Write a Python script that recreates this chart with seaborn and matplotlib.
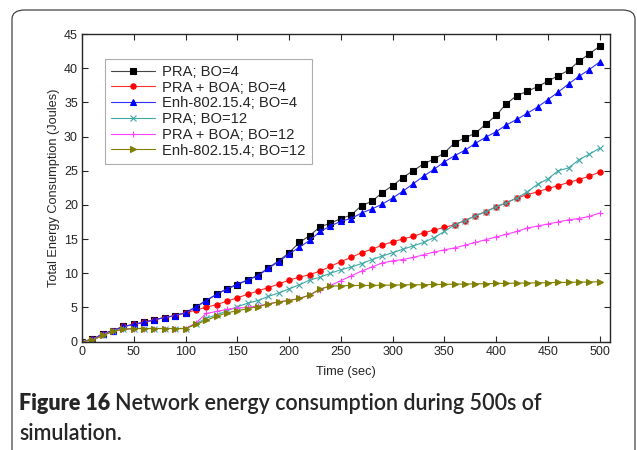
import pandas as pd
import seaborn as sns
import matplotlib.pyplot as plt
from matplotlib.patches import FancyBboxPatch

# time axis (sec), one sample every 10 s
time_sec = list(range(0, 510, 10))

pra_bo4 = [0, 0.3, 1.1, 1.6, 2.2, 2.5, 2.8, 3.2, 3.5, 3.8,
           4.2, 5.1, 6.0, 6.9, 7.7, 8.3, 9.0, 9.7, 10.8, 11.8,
           13.0, 14.5, 15.5, 16.8, 17.3, 18.0, 18.5, 19.9, 20.5, 21.8,
           22.8, 24.0, 25.0, 26.0, 26.7, 27.6, 29.1, 29.8, 30.5, 31.8,
           33.1, 34.8, 36.0, 36.6, 37.3, 38.1, 38.9, 39.7, 41.0, 42.1,
           43.2]
pra_boa_bo4 = [0, 0.3, 1.1, 1.6, 2.2, 2.5, 2.8, 3.2, 3.5, 3.8,
               4.2, 4.6, 5.0, 5.4, 5.9, 6.4, 6.9, 7.4, 7.9, 8.4,
               9.0, 9.4, 9.8, 10.3, 11.0, 11.7, 12.3, 13.0, 13.5, 14.1,
               14.6, 15.0, 15.4, 15.9, 16.3, 16.7, 17.1, 17.7, 18.4, 19.0,
               19.7, 20.3, 21.0, 21.5, 21.9, 22.4, 22.8, 23.3, 23.7, 24.2,
               24.8]
enh_bo4 = [0, 0.3, 1.1, 1.6, 2.2, 2.5, 2.8, 3.2, 3.5, 3.8,
           4.2, 5.0, 6.0, 6.9, 7.7, 8.4, 9.0, 9.6, 10.7, 11.7,
           12.8, 13.8, 14.8, 16.1, 16.9, 17.6, 18.0, 18.8, 19.4, 20.1,
           21.0, 22.0, 23.1, 24.2, 25.2, 26.3, 27.2, 28.0, 29.0, 29.9,
           30.7, 31.7, 32.5, 33.4, 34.3, 35.4, 36.5, 37.7, 38.8, 39.8,
           40.9]
pra_bo12 = [0, 0.2, 0.9, 1.5, 1.8, 1.9, 1.9, 1.9, 1.9, 1.9,
            1.9, 2.6, 3.4, 3.9, 4.5, 5.1, 5.6, 6.0, 6.6, 7.1,
            7.7, 8.3, 9.0, 9.4, 10.0, 10.5, 10.9, 11.4, 12.0, 12.5,
            13.0, 13.5, 14.0, 14.5, 15.2, 16.1, 17.1, 17.7, 18.4, 19.0,
            19.7, 20.3, 21.0, 21.9, 23.0, 23.8, 25.0, 25.4, 26.6, 27.4,
            28.3]
pra_boa_bo12 = [0, 0.2, 0.9, 1.5, 1.8, 1.9, 1.9, 1.9, 1.9, 1.9,
                1.9, 2.7, 4.1, 4.4, 4.7, 4.9, 5.0, 5.2, 5.5, 5.8,
                6.0, 6.3, 6.8, 7.6, 8.2, 8.9, 9.6, 10.3, 10.9, 11.5,
                11.8, 12.0, 12.3, 12.7, 13.1, 13.4, 13.7, 14.1, 14.5, 14.9,
                15.3, 15.7, 16.1, 16.6, 16.9, 17.2, 17.5, 17.8, 18.0, 18.3,
                18.8]
enh_bo12 = [0, 0.2, 0.9, 1.5, 1.8, 1.9, 1.9, 1.9, 1.9, 1.9,
            1.9, 2.5, 3.1, 3.7, 4.2, 4.5, 4.8, 5.1, 5.5, 5.8,
            6.0, 6.3, 6.8, 7.7, 8.1, 8.15, 8.2, 8.2, 8.2, 8.25,
            8.25, 8.3, 8.3, 8.3, 8.35, 8.35, 8.4, 8.4, 8.45, 8.45,
            8.5, 8.5, 8.55, 8.55, 8.6, 8.6, 8.65, 8.65, 8.7, 8.7,
            8.75]

series_names = ["PRA; BO=4", "PRA + BOA; BO=4", "Enh-802.15.4; BO=4",
                "PRA; BO=12", "PRA + BOA; BO=12", "Enh-802.15.4; BO=12"]
series_values = [pra_bo4, pra_boa_bo4, enh_bo4, pra_bo12, pra_boa_bo12, enh_bo12]

line_colors = ["#444444", "#ff3030", "#3030ff", "#40a8a8", "#ff40ff", "#808000"]
marker_colors = ["#000000", "#ff0000", "#0000ff", "#40a8a8", "#ff40ff", "#808000"]
markers = ["s", "o", "^", "x", "+", ">"]

sns.set_style("ticks")
plt.rcParams['font.family'] = ['Liberation Sans', 'DejaVu Sans']

fig = plt.figure(figsize=(6.37, 4.5), dpi=100)
ax = fig.add_axes([0.1287, 0.2411, 0.8289, 0.6833])

# one lineplot per series (filled and line-art markers can't share a style map)
for name, vals, lc, mc, mk in zip(series_names, series_values, line_colors,
                                  marker_colors, markers):
    df = pd.DataFrame({"Time": time_sec, "energy": vals})
    sns.lineplot(data=df, x="Time", y="energy", color=lc, linewidth=0.8,
                 marker=mk, markersize=3.8, markerfacecolor=mc,
                 markeredgecolor=mc, markeredgewidth=0.8, label=name, ax=ax)

ax.set_xlim(0, 510)
ax.set_ylim(0, 45)
ax.set_xticks(range(0, 501, 50))
ax.set_yticks(range(0, 46, 5))
ax.tick_params(direction="in", top=True, right=True, length=4, width=0.8,
               labelsize=9, pad=3)
for s in ax.spines.values():
    s.set_linewidth(1.0)
ax.set_xlabel("Time (sec)", fontsize=9.2, labelpad=6)
ax.set_ylabel("Total Energy Consumption (Joules)", fontsize=9.2, labelpad=3)

leg = ax.legend(loc="upper left", bbox_to_anchor=(0.0436, 0.919),
                fontsize=10.6, frameon=True, fancybox=False, handlelength=3.0,
                borderpad=0.4, labelspacing=0.12, handletextpad=0.5,
                borderaxespad=0)
leg.get_frame().set_edgecolor("#999999")
leg.get_frame().set_linewidth(0.8)

# rounded frame around the figure
frame = FancyBboxPatch((12 / 637, -0.2), (635 - 12) / 637, 1 - 10 / 450 + 0.2,
                       boxstyle="round,pad=0,rounding_size=0.02",
                       transform=fig.transFigure, fill=False,
                       edgecolor="#444444", linewidth=0.9)
fig.patches.append(frame)

# caption
t1 = fig.text(19 / 637, 1 - 403 / 450, "Figure 16", fontsize=15.5,
              family="Lato", weight="heavy", va="center")
fig.canvas.draw()
bb = t1.get_window_extent()
fig.text((bb.x1 + 5) / 637, 1 - 403 / 450,
         "Network energy consumption during 500s of",
         fontsize=15.5, family="Lato", weight="semibold", va="center")
fig.text(19 / 637, 1 - 433 / 450, "simulation.", fontsize=15.5,
         family="Lato", weight="semibold", va="center")

fig.savefig("out.png", dpi=100)
